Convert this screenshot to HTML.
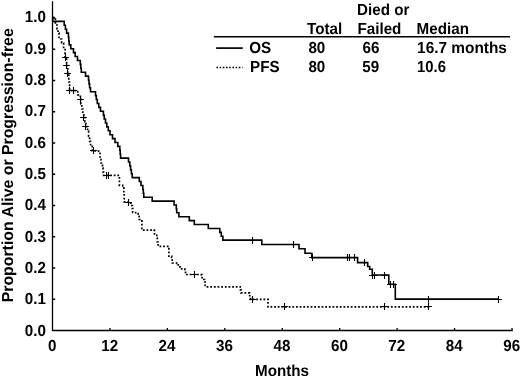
<!DOCTYPE html>
<html lang="en">
<head>
<meta charset="utf-8">
<title>Kaplan-Meier: OS and PFS</title>
<style>
html,body{margin:0;padding:0;background:#fff;}
body{width:520px;height:376px;overflow:hidden;}
svg{display:block;will-change:transform;text-rendering:geometricPrecision;}
</style>
</head>
<body>
<svg width="520" height="376" viewBox="0 0 520 376">
<rect width="520" height="376" fill="#fff"/>
<g stroke="#000" stroke-width="1.3" fill="none">
<path d="M52.5 1.2V330.5H512.8"/>
<path d="M109.94 330.5v-2.5M167.38 330.5v-2.5M224.81 330.5v-2.5M282.25 330.5v-2.5M339.69 330.5v-2.5M397.12 330.5v-2.5M454.56 330.5v-2.5M512 330.5v-2.5M52.5 299.25h2.7M52.5 268h2.7M52.5 236.75h2.7M52.5 205.5h2.7M52.5 174.25h2.7M52.5 143h2.7M52.5 111.75h2.7M52.5 80.5h2.7M52.5 49.25h2.7M52.5 18h2.7" stroke-width="1.3"/>
</g>
<polyline points="52.5,17.5 52.7,17.5 52.7,21.41 64.2,21.41 64.2,25.31 65.4,25.31 65.4,29.22 66.6,29.22 66.6,33.12 68.4,33.12 68.4,37.03 68.8,37.03 68.8,40.94 69.2,40.94 69.2,44.84 70.8,44.84 70.8,48.75 73.5,48.75 73.5,52.66 75.2,52.66 75.2,56.56 77.5,56.56 77.5,60.47 80.3,60.47 80.3,64.38 80.8,64.38 80.8,68.28 81.3,68.28 81.3,72.19 85.5,72.19 85.5,76.09 88.5,76.09 88.5,80 89,80 89,83.91 89.6,83.91 89.6,87.81 90.5,87.81 90.5,91.72 95.5,91.72 95.5,95.62 96.3,95.62 96.3,99.53 97.3,99.53 97.3,103.44 98.8,103.44 98.8,107.34 100.5,107.34 100.5,111.25 103.4,111.25 103.4,115.16 104.2,115.16 104.2,119.06 105.5,119.06 105.5,122.97 106.8,122.97 106.8,126.88 108.3,126.88 108.3,130.78 110,130.78 110,134.69 112.5,134.69 112.5,138.59 115,138.59 115,142.5 117.8,142.5 117.8,146.41 119.8,146.41 119.8,150.31 120.2,150.31 120.2,154.22 120.6,154.22 120.6,158.12 128.5,158.12 128.5,162.03 129.8,162.03 129.8,165.94 130.6,165.94 130.6,169.84 131.4,169.84 131.4,173.75 132.2,173.75 132.2,177.66 139.3,177.66 139.3,181.56 141,181.56 141,185.47 142.8,185.47 142.8,189.38 143.3,189.38 143.3,193.28 143.8,193.28 143.8,197.19 152.2,197.19 152.2,201.09 174.1,201.09 174.1,205 176.3,205 176.3,208.91 176.7,208.91 176.7,212.81 178.9,212.81 178.9,216.72 189.3,216.72 189.3,220.62 194.3,220.62 194.3,224.53 208.3,224.53 208.3,228.44 219.8,228.44 219.8,232.34 221.3,232.34 221.3,236.25 222.9,236.25 222.9,240.16 261.8,240.16 261.8,244.5 299,244.5 299,248.8 305,248.8 305,253.2 311.8,253.2 311.8,257.6 357.6,257.6 357.6,262.6 367.7,262.6 367.7,266.5 369.7,266.5 369.7,269.3 372.3,269.3 372.3,275 388.8,275 388.8,284.3 395.3,284.3 395.3,299.1 498,299.1" fill="none" stroke="#000" stroke-width="1.6" stroke-linejoin="miter"/>
<polyline points="52.6,17.4 55.3,17.4 55.3,17.4 55.4,17.4 55.4,25 57,25 57,29 58,29 58,33 59,33 59,39 61.6,39 61.6,43 63.6,43 63.6,48.5 65.1,48.5 65.1,57 66.6,57 66.6,65.7 67.8,65.7 67.8,73.75 68.8,73.75 68.8,82 69.6,82 69.6,90.6 75.3,90.6 75.3,90.6 77.7,90.6 77.7,94.8 80.4,94.8 80.4,99.2 80.8,99.2 80.8,104 81.8,104 81.8,109 82.8,109 82.8,113.3 83.8,113.3 83.8,117.5 84.8,117.5 84.8,122 85.9,122 85.9,126.6 87.6,126.6 87.6,131.2 88.6,131.2 88.6,136.2 89.6,136.2 89.6,141.3 90.6,141.3 90.6,145.5 92.3,145.5 92.3,150.9 96,150.9 96,151.2 100,151.2 100,157 101,157 101,163 102.5,163 102.5,168.2 103,168.2 103,172.2 103.6,172.2 103.6,175.3 118.9,175.3 118.9,175.3 119.4,175.3 119.4,185.3 122.8,185.3 122.8,185.8 123.8,185.8 123.8,193.7 124.2,193.7 124.2,201.8 129.5,201.8 129.5,201.9 130.7,201.9 130.7,205.5 132.3,205.5 132.3,208.5 132.7,208.5 132.7,212.5 135.6,212.5 135.6,213.6 138.1,213.6 138.1,216.3 139.1,216.3 139.1,219.5 141.7,219.5 141.7,219.7 141.9,219.7 141.9,230.1 154.1,230.1 154.1,230.2 154.5,230.2 154.5,234 156.8,234 156.8,238 157.3,238 157.3,242 158.1,242 158.1,246.3 168.7,246.3 168.7,246.6 168.9,246.6 168.9,256.2 171.7,256.2 171.7,257.5 172.2,257.5 172.2,263 176.8,263 176.8,263.3 178.3,263.3 178.3,266.8 180.3,266.8 180.3,268.8 183.5,268.8 183.5,268.9 184.8,268.9 184.8,271 185.5,271 185.5,274.5 201.2,274.5 201.2,274.7 202.1,274.7 202.1,279.5 204.7,279.5 204.7,282 205.2,282 205.2,286.8 238.4,286.8 238.4,286.8 240.2,286.8 240.2,289.8 241,289.8 241,292.8 248.8,292.8 248.8,292.9 249.7,292.9 249.7,296.6 250.5,296.6 250.5,299.3 267.8,299.3 267.8,299.4 268,299.4 268,306.9 429.5,306.9 429.5,306.9" fill="none" stroke="#000" stroke-width="1.7" stroke-dasharray="1.8 1.85"/>
<path d="M249.1 240.5h6.8M252.5 237.1v6.8M290.1 244.5h6.8M293.5 241.1v6.8M309.1 257.5h6.8M312.5 254.1v6.8M344.1 257.5h6.8M347.5 254.1v6.8M346.1 257.5h6.8M349.5 254.1v6.8M351.1 257.5h6.8M354.5 254.1v6.8M361.1 262.5h6.8M364.5 259.1v6.8M369.1 275.5h6.8M372.5 272.1v6.8M371.1 275.5h6.8M374.5 272.1v6.8M381.1 275.5h6.8M384.5 272.1v6.8M387.1 284.5h6.8M390.5 281.1v6.8M390.1 284.5h6.8M393.5 281.1v6.8M425.1 299.5h6.8M428.5 296.1v6.8M495.1 299.5h6.8M498.5 296.1v6.8M62.1 57.5h6.8M65.5 54.1v6.8M63.1 65.5h6.8M66.5 62.1v6.8M64.1 73.5h6.8M67.5 70.1v6.8M66.1 90.5h6.8M69.5 87.1v6.8M70.1 90.5h6.8M73.5 87.1v6.8M77.1 99.5h6.8M80.5 96.1v6.8M80.1 117.5h6.8M83.5 114.1v6.8M82.1 126.5h6.8M85.5 123.1v6.8M90.1 150.5h6.8M93.5 147.1v6.8M103.1 175.5h6.8M106.5 172.1v6.8M105.1 175.5h6.8M108.5 172.1v6.8M125.1 202.5h6.8M128.5 199.1v6.8M191.1 274.5h6.8M194.5 271.1v6.8M249.1 299.5h6.8M252.5 296.1v6.8M281.1 306.5h6.8M284.5 303.1v6.8M381.1 306.5h6.8M384.5 303.1v6.8M425.1 306.5h6.8M428.5 303.1v6.8" stroke="#000" stroke-width="1.1" fill="none"/>
<path d="M213.8 36.8H510" stroke="#000" stroke-width="1.6"/>
<path d="M216.1 48.1H242.8" stroke="#000" stroke-width="1.7"/>
<path d="M216.4 67.5H242.6" stroke="#000" stroke-width="1.7" stroke-dasharray="1.6 1.6"/>
<g font-family="'Liberation Sans', Arial, Helvetica, sans-serif" font-weight="bold" font-size="15.2" fill="#000">
<text transform="translate(45.9 335.7) scale(1 1.05)" text-anchor="end">0.0</text>
<text transform="translate(45.9 304.36) scale(1 1.05)" text-anchor="end">0.1</text>
<text transform="translate(45.9 273.02) scale(1 1.05)" text-anchor="end">0.2</text>
<text transform="translate(45.9 241.68) scale(1 1.05)" text-anchor="end">0.3</text>
<text transform="translate(45.9 210.34) scale(1 1.05)" text-anchor="end">0.4</text>
<text transform="translate(45.9 179) scale(1 1.05)" text-anchor="end">0.5</text>
<text transform="translate(45.9 147.66) scale(1 1.05)" text-anchor="end">0.6</text>
<text transform="translate(45.9 116.32) scale(1 1.05)" text-anchor="end">0.7</text>
<text transform="translate(45.9 84.98) scale(1 1.05)" text-anchor="end">0.8</text>
<text transform="translate(45.9 53.64) scale(1 1.05)" text-anchor="end">0.9</text>
<text transform="translate(45.9 22.3) scale(1 1.05)" text-anchor="end">1.0</text>
<text transform="translate(52.2 350.5) scale(1 1.05)" text-anchor="middle">0</text>
<text transform="translate(109.64 350.5) scale(1 1.05)" text-anchor="middle">12</text>
<text transform="translate(167.07 350.5) scale(1 1.05)" text-anchor="middle">24</text>
<text transform="translate(224.51 350.5) scale(1 1.05)" text-anchor="middle">36</text>
<text transform="translate(281.95 350.5) scale(1 1.05)" text-anchor="middle">48</text>
<text transform="translate(339.39 350.5) scale(1 1.05)" text-anchor="middle">60</text>
<text transform="translate(396.82 350.5) scale(1 1.05)" text-anchor="middle">72</text>
<text transform="translate(454.26 350.5) scale(1 1.05)" text-anchor="middle">84</text>
<text transform="translate(511.7 350.5) scale(1 1.05)" text-anchor="middle">96</text>
<text transform="translate(282 375.7) scale(1 1.05)" text-anchor="middle">Months</text>
<text transform="translate(13.3 302.3) rotate(-90) scale(1 1.05)" textLength="274" lengthAdjust="spacingAndGlyphs">Proportion Alive or Progression-free</text>
<text transform="translate(357 14.6) scale(1 1.05)">Died or</text>
<text transform="translate(307 33.5) scale(1 1.05)">Total</text>
<text transform="translate(357.5 33.5) scale(1 1.05)">Failed</text>
<text transform="translate(416.6 33.5) scale(1 1.05)">Median</text>
<text transform="translate(249.3 53.1) scale(1 1.05)">OS</text>
<text transform="translate(308.4 53.1) scale(1 1.05)">80</text>
<text transform="translate(362.6 53.1) scale(1 1.05)">66</text>
<text transform="translate(417.1 53.1) scale(1 1.05)" textLength="89.8" lengthAdjust="spacingAndGlyphs">16.7 months</text>
<text transform="translate(250 72.1) scale(1 1.05)">PFS</text>
<text transform="translate(308.4 72.1) scale(1 1.05)">80</text>
<text transform="translate(362.3 72.1) scale(1 1.05)">59</text>
<text transform="translate(417.1 72.1) scale(1 1.05)" textLength="28.9" lengthAdjust="spacingAndGlyphs">10.6</text>
</g>
</svg>
</body>
</html>
